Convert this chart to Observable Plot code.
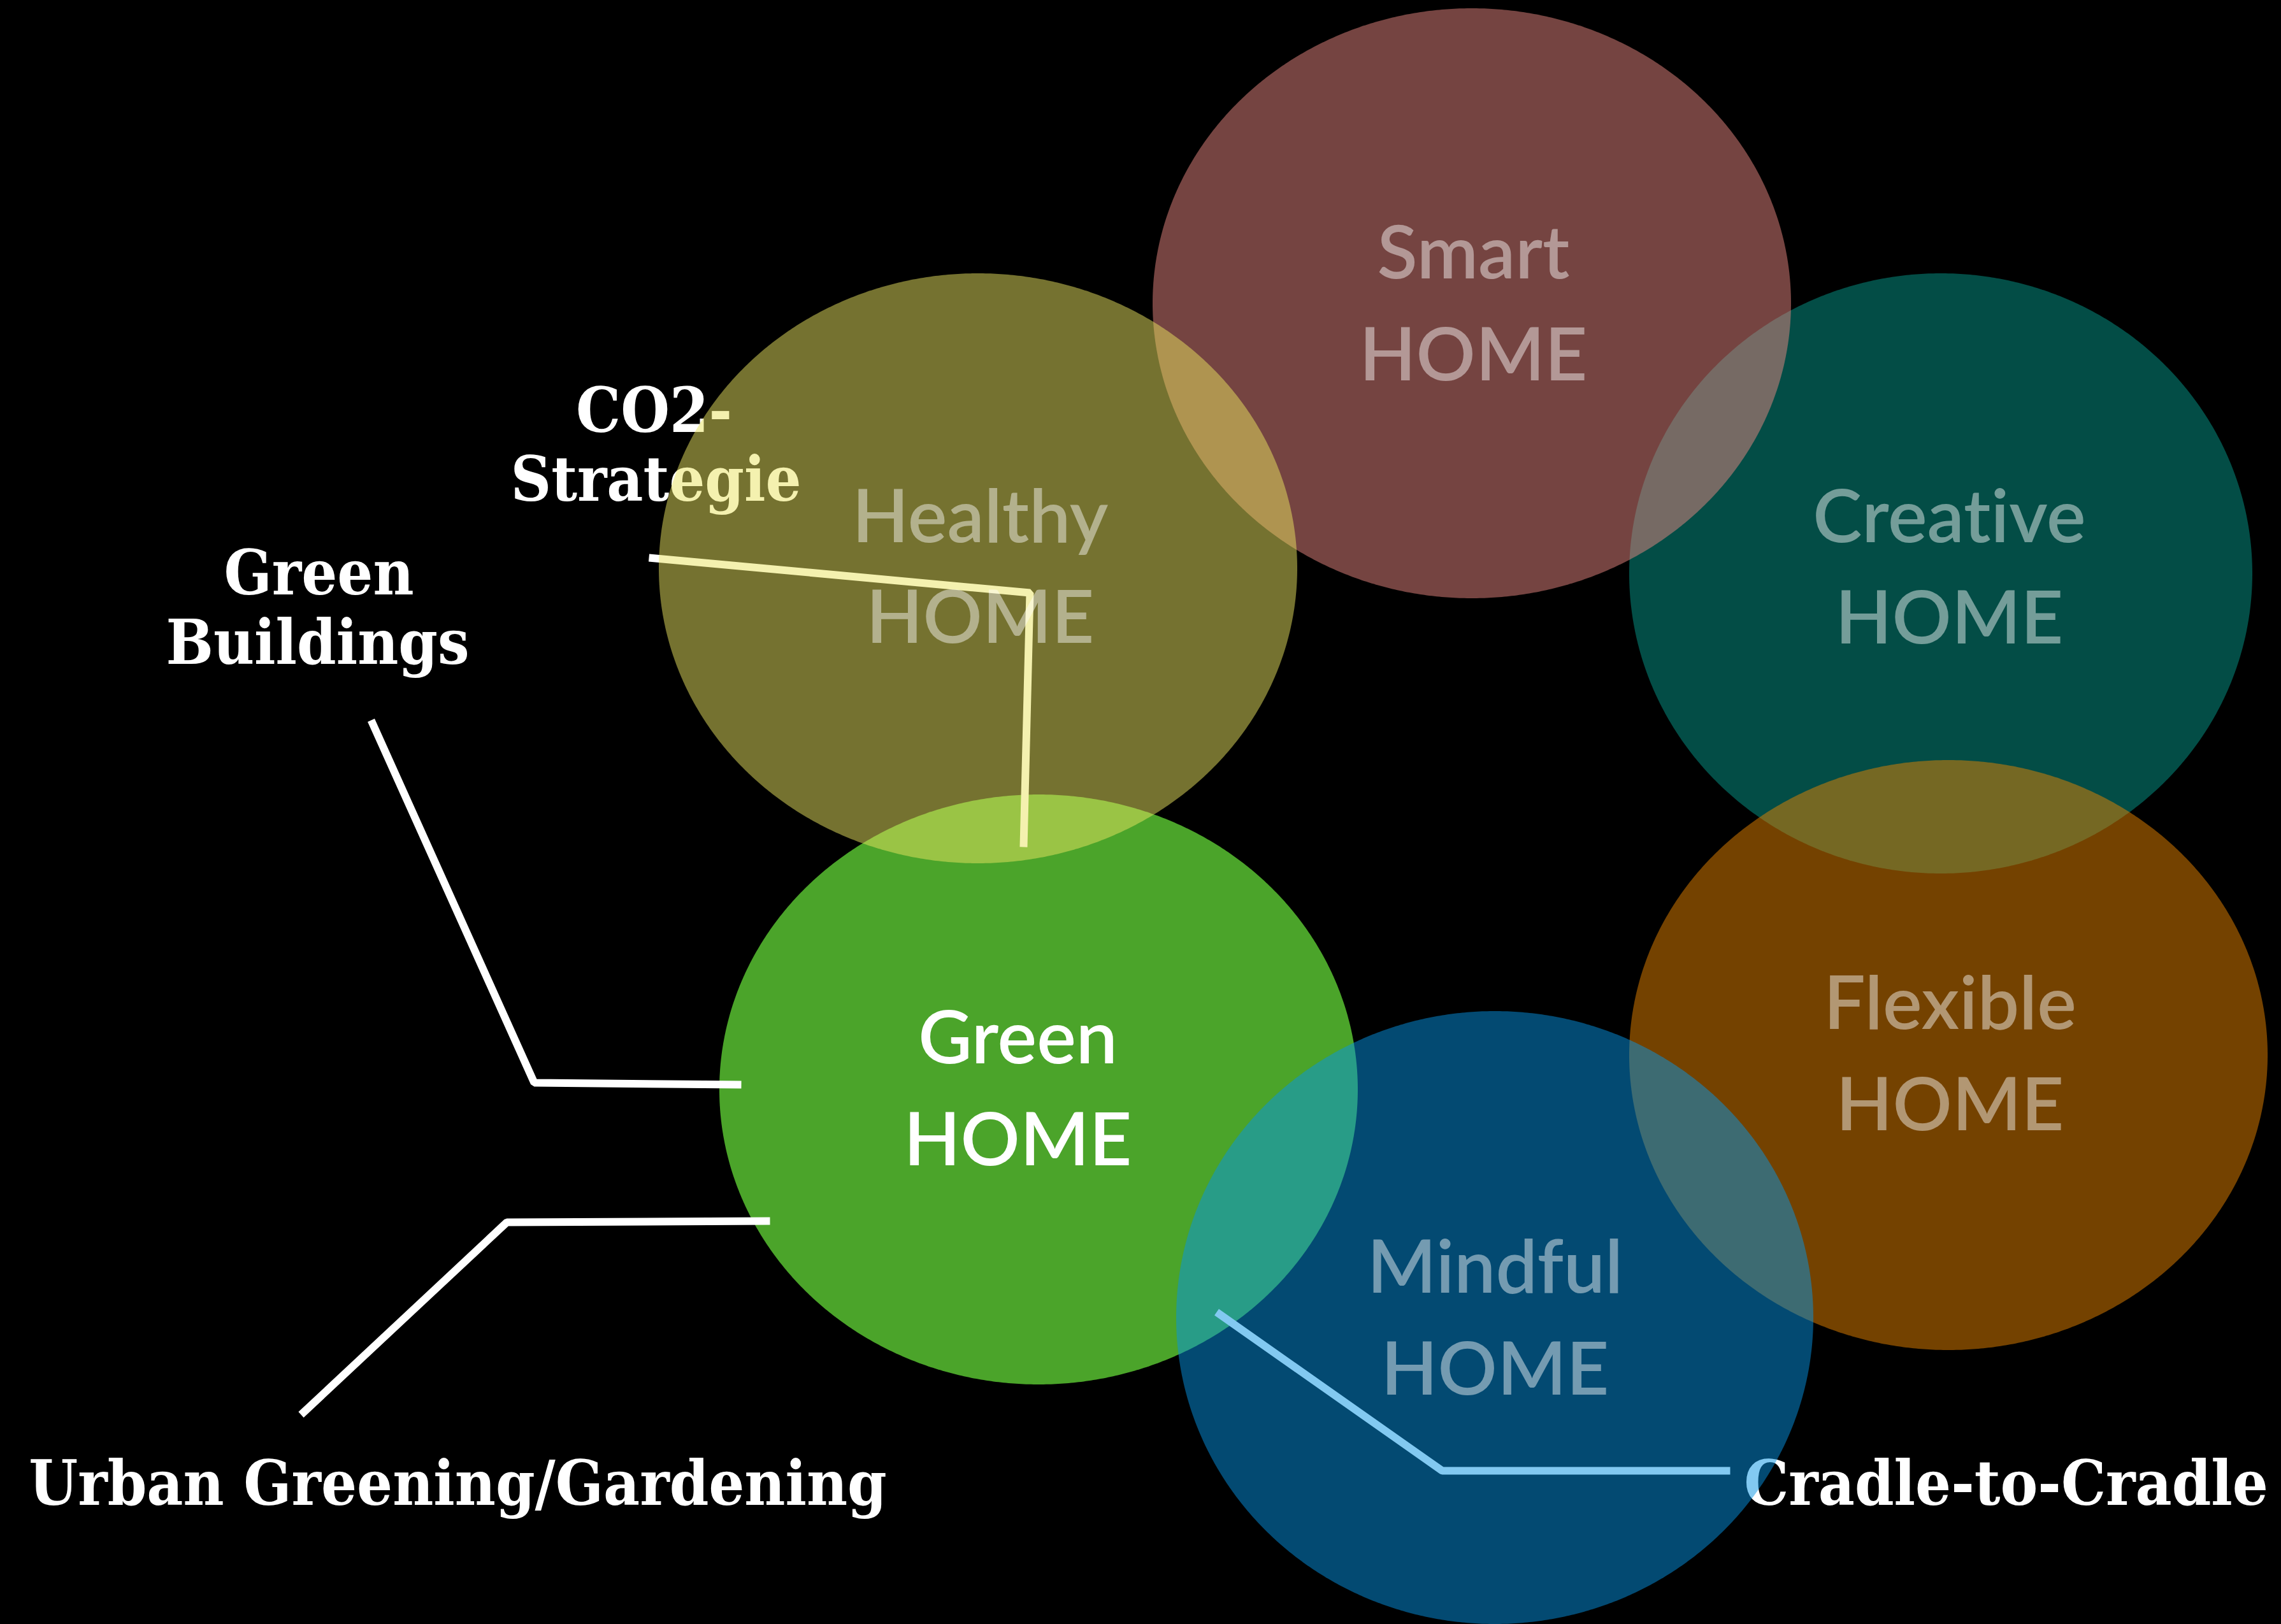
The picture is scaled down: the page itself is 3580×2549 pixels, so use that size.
<!DOCTYPE html>
<html>
<head>
<meta charset="utf-8">
<script src="https://cdn.jsdelivr.net/npm/d3@7"></script>
<script src="https://cdn.jsdelivr.net/npm/@observablehq/plot@0.6"></script>
<style>
  html, body { margin: 0; padding: 0; background: #000; }
  #chart svg { display: block; }
  #chart svg text { font-variant-ligatures: none; font-feature-settings: "liga" 0, "clig" 0; }
</style>
</head>
<body>
<div id="chart"></div>
<script>
// ---- data ----
const circleNames   = ["Green", "Creative", "Smart", "Healthy", "Flexible", "Mindful"];
const circleCx      = [1630, 3046, 2310, 1535, 3058, 2346];
const circleCy      = [1710, 900, 476, 892, 1656, 2068];
const circleRx      = [501, 489, 501, 501, 501, 500];
const circleRy      = [463, 471, 463, 463, 463, 481];
const circleColors  = ["#4ba42a", "#069a8c", "#ea8882", "#eae460", "#e88400", "#0694e4"];
const circleOpacity = [1, 0.5, 0.5, 0.5, 0.5, 0.5];

const labelSecond = "HOME";
const labelX  = [1597, 3059, 2312, 1538, 3060, 2346];
const labelY1 = [1668, 850, 436, 850, 1614, 2028];
const labelY2 = [1828, 1009, 596, 1008, 1773, 2188];

const leaderNames = ["CO2-Strategie", "Green Buildings", "Urban Greening/Gardening", "Cradle-to-Cradle"];
const leaderX = [[1018, 1616, 1606], [582, 838, 1163], [472, 795, 1208], [1909, 2263, 2715]];
const leaderY = [[875, 930, 1329], [1130, 1699, 1702], [2220, 1918, 1916], [2059, 2308, 2308]];

const tagLines = ["CO2-", "Strategie", "Green", "Buildings", "Urban Greening/Gardening", "Cradle-to-Cradle"];
const tagX = [1026, 1029, 500, 498, 718, 3148];
const tagY = [677, 785, 932, 1041, 2361, 2361];

// ---- build tables ----
const W = 3580, H = 2549;
function ellipseTable(i) {
  const pts = [];
  const N = 400;
  for (let k = 0; k <= N; k++) {
    const t = Math.PI * (1 - k / N);
    pts.push({
      x: circleCx[i] + circleRx[i] * Math.cos(t),
      y1: circleCy[i] - circleRy[i] * Math.sin(t),
      y2: circleCy[i] + circleRy[i] * Math.sin(t)
    });
  }
  return pts;
}
const ellipseMark = (i) => Plot.area(ellipseTable(i), {
  x1: "x", y1: "y1", y2: "y2",
  fill: circleColors[i], fillOpacity: circleOpacity[i], curve: "linear"
});

const leaderTable = leaderNames.flatMap((name, i) =>
  leaderX[i].map((x, j) => ({name, x, y: leaderY[i][j]})));
const tagTable = tagLines.map((t, i) => ({t, x: tagX[i], y: tagY[i]}));
const labelTable = circleNames.flatMap((name, i) => [
  {t: name, x: labelX[i], y: labelY1[i], o: circleOpacity[i] < 1 ? 0.45 : 1},
  {t: labelSecond, x: labelX[i], y: labelY2[i], o: circleOpacity[i] < 1 ? 0.45 : 1}
]);

const sansFont = "Lato, 'Open Sans', sans-serif";
const serifFont = "'DejaVu Serif Condensed', 'DejaVu Serif', serif";

const chart = Plot.plot({
  width: W, height: H,
  marginTop: 0, marginRight: 0, marginBottom: 0, marginLeft: 0,
  x: {domain: [0, W], range: [0, W], axis: null},
  y: {domain: [0, H], range: [0, H], axis: null},
  style: {background: "#000"},
  marks: [
    ellipseMark(0),
    Plot.line(leaderTable, {
      x: "x", y: "y", z: "name", stroke: "#fff", strokeWidth: 12,
      strokeLinecap: "butt", strokeLinejoin: "miter", curve: "linear"
    }),
    Plot.text(tagTable, {
      x: "x", y: "y", text: "t", fill: "#fff", fontSize: 98, fontWeight: "bold",
      fontFamily: serifFont, lineAnchor: "bottom", textAnchor: "middle"
    }),
    ellipseMark(1),
    ellipseMark(2),
    ellipseMark(3),
    ellipseMark(4),
    ellipseMark(5),
    Plot.text(labelTable, {
      x: "x", y: "y", text: "t", fill: "#fff", fillOpacity: "o", fontSize: 116,
      fontWeight: 600, fontFamily: sansFont, lineAnchor: "bottom", textAnchor: "middle"
    })
  ]
});
document.getElementById("chart").append(chart);
</script>
</body>
</html>
